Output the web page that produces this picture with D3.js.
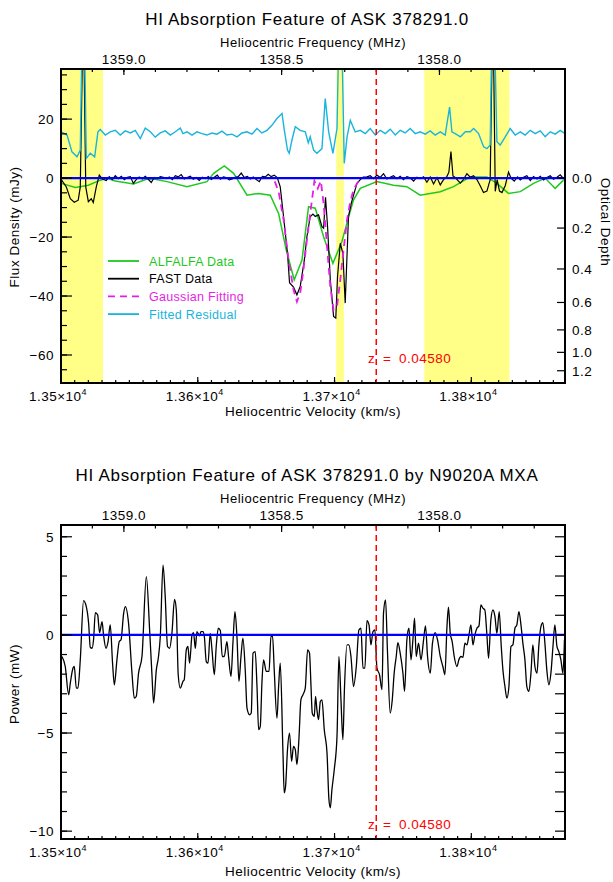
<!DOCTYPE html>
<html>
<head>
<meta charset="utf-8">
<script src="https://cdn.jsdelivr.net/npm/d3@7"></script>
<style>
  body { margin: 0; background: #fff; }
  text { font-family: "Liberation Sans", Arial, sans-serif; fill: #000; }
</style>
</head>
<body>
<svg id="chart" width="613" height="882"></svg>
<script>
// ---- data ----
const C_KMS = 299792.458, F0 = 1420.405752;
const velDomain = [13500, 13868.5];
const zRed = 0.04580;
const contFlux = 93.5; // continuum (mJy) behind the optical depth axis

// masked (RFI) velocity ranges, km/s
const maskBands = [[13500, 13530.7], [13701.2, 13706.9], [13765.6, 13827.9]];

// [velocity km/s, flux mJy]
const alfalfaData = [
  [13500.2,-1.8],[13510.5,-3.2],[13520.0,-2.4],[13528.7,-0.7],[13533.6,-0.1],[13539.7,-1.0],
  [13553.1,-2.0],[13562.9,-0.3],[13567.7,-0.3],[13577.5,-1.2],[13592.1,-2.9],[13606.7,-1.2],
  [13611.6,1.6],[13619.4,4.1],[13626.2,1.6],[13636.0,-5.8],[13644.4,-5.2],[13653.0,-5.8],
  [13659.1,-12],[13664.7,-24.4],[13670.5,-34.5],[13676.2,-27.8],[13681.0,-9.7],[13685.9,-10.2],
  [13692.0,-19.9],[13698.8,-28.9],[13705.4,-21.5],[13711.0,-12],[13713.9,-7.4],[13718.8,-3.5],
  [13731.0,-1.2],[13743.1,-2.4],[13752.9,-2.9],[13762.6,-5.8],[13777.3,-4.6],[13787.0,-2.9],
  [13799.2,0.4],[13811.4,0.4],[13818.7,-1.8],[13827.2,-5.2],[13835.8,-4.6],[13845.5,-1.8],
  [13854.0,0],[13861.3,-3.5],[13867.4,-0.7]
];

const fastData = [
  [13500.2,-0.5],[13503.9,-3],[13506.8,-7],[13509.7,-8.2],[13512.6,-7.5],[13514.1,-3],
  [13516.3,60],[13518.1,-3],[13520.0,-8],[13522.1,-7],[13523.6,-8.3],[13525.8,-3],
  [13528.0,1],[13530.2,-0.3],[13533.1,-0.8],[13535.3,0.5],[13537.5,-0.5],[13539.7,0.8],
  [13541.9,-0.2],[13544.1,0.6],[13546.3,-0.5],[13548.5,0.3],[13550.7,0.5],[13552.9,-1.8],
  [13555.0,-0.5],[13557.2,0.4],[13559.4,-0.3],[13561.6,0.6],[13563.8,-0.4],[13566.0,-1.5],
  [13568.2,0.2],[13570.4,-0.2],[13572.6,0.5],[13574.8,0.3],[13577.0,-0.2],[13579.2,0.4],
  [13581.4,-0.5],[13583.6,0.8],[13585.7,0.4],[13587.9,1.2],[13590.1,-0.3],[13592.3,0.2],
  [13594.5,0.6],[13596.7,-0.4],[13598.9,0.2],[13601.1,-0.8],[13603.3,0.3],[13605.5,-0.2],
  [13607.7,0.5],[13609.9,-0.5],[13612.1,0.3],[13614.3,1.0],[13616.5,-0.4],[13618.7,0.4],
  [13620.8,0.2],[13623.0,-0.6],[13625.2,-0.3],[13627.4,0.3],[13629.6,0.5],[13631.8,1.7],
  [13634.0,0.2],[13636.2,0.6],[13638.4,-0.3],[13640.6,0.4],[13642.8,-0.5],[13645.0,-1.2],
  [13647.2,0.6],[13649.4,0.4],[13651.5,1.3],[13653.7,0.5],[13655.9,1.0],[13658.1,0.2],
  [13660.3,-3],[13662.7,-13],[13665.6,-25.5],[13667.1,-35.5],[13670.0,-37],[13672.5,-39.6],
  [13674.9,-36.8],[13677.9,-27.8],[13679.8,-19.9],[13682.2,-13.1],[13684.2,-12.2],[13685.9,-13],
  [13688.3,-12.5],[13690.8,-16.5],[13692.0,-17],[13693.4,-6.5],[13694.9,-16.5],[13696.9,-34.5],
  [13699.3,-46.9],[13700.9,-47.5],[13702.2,-33.4],[13704.2,-22.1],[13706.1,-25.5],[13707.8,-42.4],
  [13710.2,-13],[13712.2,-8.6],[13713.9,-5.8],[13716.4,-1.8],[13718.8,-0.5],[13721.0,0.3],
  [13723.7,0.4],[13726.1,0.8],[13728.5,-0.2],[13731.0,1.0],[13733.4,0.2],[13735.8,1.5],
  [13738.3,-0.3],[13740.7,0.3],[13743.1,0.8],[13745.6,-0.2],[13748.0,0.6],[13750.4,-0.5],
  [13752.9,0.5],[13755.3,0.1],[13757.8,-1.0],[13760.2,0.3],[13762.6,-0.2],[13765.1,0.4],
  [13767.5,-1.4],[13770.0,0.4],[13772.4,-2.0],[13774.9,0.2],[13777.3,-2.3],[13779.7,-0.5],
  [13782.2,0.6],[13783.6,2],[13785.1,9],[13786.6,0.7],[13788.2,0.2],[13792.0,-1.7],
  [13794.3,-0.4],[13796.8,1.5],[13799.2,0.3],[13801.6,0.8],[13804.1,-0.5],[13806.5,-2.6],
  [13808.9,-4.9],[13811.4,-4.4],[13813.8,-0.5],[13815.8,60],[13817.5,-4.5],[13818.9,-0.5],
  [13820.6,-4.4],[13822.4,-4.9],[13824.8,-2.6],[13827.2,2.0],[13829.0,0.0],[13831.4,-1.0],
  [13833.8,0.4],[13835.8,-0.6],[13838.2,0.3],[13840.6,0.8],[13843.1,-0.8],[13845.5,0.5],
  [13848.0,-0.3],[13850.4,0.6],[13852.8,-0.6],[13855.3,0.2],[13857.7,0.8],[13860.1,-0.4],
  [13862.6,0.3],[13865.0,1.1],[13867.4,-0.2],[13868.5,0.3]
];

const gaussData = [
  [13500,0],[13655.4,0],[13659.1,-4.6],[13662.7,-14],[13666.4,-27.8],[13670.0,-37.9],
  [13672.5,-41.9],[13674.9,-39],[13677.3,-31],[13679.8,-21],[13682.2,-11.9],[13684.2,-5],
  [13685.3,-1],[13687.7,-3.5],[13690.0,-1],[13692.0,-8.6],[13694.5,-23],[13696.9,-36.8],
  [13699.3,-44.7],[13701.8,-43.5],[13704.2,-34.5],[13706.6,-24.4],[13709.1,-14.2],[13711.5,-8],
  [13713.9,-4],[13716.4,-1.8],[13718.8,-0.5],[13721.2,0],[13868.5,0]
];

const residualData = [
  [13500.2,15.7],[13504.4,14.6],[13508.0,8.9],[13511.7,7.2],[13514.1,9.5],[13516.3,75],
  [13518.5,6.7],[13521.4,8.4],[13524.6,7.2],[13527.0,15.7],[13528.7,16.5],[13532.4,14.6],
  [13536.0,15.7],[13539.7,16.2],[13543.3,14.6],[13547.0,16.0],[13550.7,15.3],[13554.3,16.2],
  [13558.0,13.4],[13561.6,17.0],[13565.3,15.7],[13568.9,13.9],[13572.6,15.3],[13576.2,16.0],
  [13579.9,14.6],[13583.6,15.7],[13587.2,17.0],[13589.2,15.1],[13592.1,15.7],[13595.8,14.6],
  [13599.4,15.7],[13603.1,15.1],[13606.7,14.6],[13610.4,15.3],[13614.0,14.9],[13617.7,15.9],
  [13621.3,14.6],[13625.0,14.9],[13628.7,14.0],[13632.3,15.3],[13636.0,15.7],[13639.6,14.9],
  [13643.3,16.8],[13646.9,15.3],[13650.6,16.2],[13654.2,17.9],[13657.9,20.2],[13661.6,21.9],
  [13663.2,16.5],[13665.6,9.5],[13666.9,8.4],[13668.9,13],[13671.3,17.4],[13674.9,16.2],
  [13678.6,15.7],[13680.8,12],[13682.2,14],[13684.7,9.5],[13687.1,8.4],[13690.8,10],
  [13693.2,27],[13695.7,15.7],[13698.8,8.4],[13701.8,16.8],[13704.2,75],[13707.1,5],
  [13709.1,13.8],[13711.5,19.6],[13715.1,15.7],[13718.8,16.2],[13722.5,15.1],[13726.1,16.8],
  [13729.8,14.6],[13733.4,16.2],[13737.1,15.1],[13740.7,16.6],[13744.4,14.6],[13748.0,16.2],
  [13751.7,15.3],[13755.3,16.8],[13759.0,15.1],[13762.6,15.7],[13766.3,14.9],[13769.9,16.0],
  [13773.6,14.6],[13777.3,15.7],[13780.9,14.6],[13784.1,24.1],[13785.8,15.7],[13788.2,15.1],
  [13792.0,14.0],[13795.6,15.7],[13799.2,15.7],[13801.7,16.8],[13805.3,15.1],[13809.0,10.6],
  [13811.4,10.0],[13813.8,11.2],[13815.8,75],[13818.7,12.3],[13821.1,11.2],[13824.8,14.0],
  [13828.4,16.8],[13832.1,14.6],[13835.8,15.7],[13839.4,14.6],[13843.1,16.2],[13846.7,15.1],
  [13850.4,16.0],[13854.0,14.0],[13857.7,15.7],[13861.3,14.9],[13865.0,16.2],[13868.5,15.1]
];

// N9020A MXA spectrum: [velocity km/s, power mW]
const mxaData = [
  [13500.7,-1.10],[13503.1,-1.61],[13505.6,-3.05],[13506.8,-2.46],[13508.8,-1.69],[13509.7,-1.61],
  [13511.2,-2.71],[13512.4,-2.71],[13514.1,-1.27],[13516.5,1.75],[13518.5,1.44],[13520.2,0.59],
  [13521.4,-0.63],[13522.7,-0.68],[13523.8,-0.25],[13525.1,1.14],[13526.8,1.02],[13528.2,0.12],
  [13530.0,0.68],[13531.1,0.00],[13532.9,-0.68],[13534.4,-0.34],[13536.0,0.51],[13537.7,-1.44],
  [13539.0,-2.54],[13540.9,-1.27],[13542.6,-0.34],[13543.9,-0.25],[13545.8,1.10],[13547.0,1.44],
  [13549.4,0.59],[13551.9,-1.95],[13553.6,-3.22],[13555.0,-3.14],[13556.7,-1.95],[13559.2,-1.10],
  [13562.4,2.97],[13564.8,0.25],[13566.5,-2.03],[13567.7,-3.47],[13569.7,-1.78],[13571.3,-1.10],
  [13572.6,-0.08],[13574.6,3.56],[13576.2,1.95],[13577.9,-0.59],[13579.4,-0.68],[13581.1,0.08],
  [13583.0,1.81],[13584.3,1.27],[13585.7,-2.03],[13587.2,-2.71],[13589.2,-2.37],[13590.1,-2.29],
  [13591.6,-0.76],[13592.8,-0.59],[13594.0,-1.44],[13595.8,0.00],[13596.9,0.12],[13598.2,-0.68],
  [13599.4,0.17],[13601.3,-0.05],[13602.3,0.17],[13603.8,0.17],[13604.8,-0.08],[13606.2,-1.36],
  [13607.5,-1.44],[13609.1,0.08],[13610.4,-0.76],[13612.1,-2.03],[13613.5,-0.59],[13615.0,0.34],
  [13616.5,0.22],[13617.9,-1.10],[13619.4,-1.10],[13621.3,-0.34],[13622.5,-1.10],[13624.3,-2.12],
  [13625.7,-0.42],[13627.2,1.19],[13628.7,-0.17],[13630.1,-2.37],[13631.6,-1.10],[13633.0,-0.17],
  [13634.7,-1.78],[13636.0,-3.73],[13637.9,-4.07],[13639.1,-3.98],[13640.4,-0.93],[13642.0,-0.85],
  [13643.3,-2.63],[13644.5,-4.83],[13645.7,-4.66],[13646.9,-2.46],[13648.1,-1.27],[13650.1,-1.86],
  [13652.1,-1.86],[13653.5,-0.08],[13654.7,-0.08],[13655.9,-1.78],[13657.9,-4.24],[13659.1,-2.63],
  [13660.3,-1.44],[13662.3,-6.02],[13663.2,-8.05],[13664.2,-7.71],[13665.6,-5.85],[13667.1,-5.00],
  [13668.6,-6.44],[13670.0,-5.68],[13671.3,-5.85],[13672.5,-6.61],[13674.0,-5.25],[13675.4,-3.31],
  [13676.9,-3.05],[13678.6,-2.71],[13680.3,-0.76],[13681.7,-0.93],[13682.8,-2.63],[13683.7,-3.98],
  [13685.2,-4.15],[13686.1,-3.14],[13687.1,-3.81],[13688.3,-4.32],[13689.6,-3.39],[13690.8,-3.31],
  [13692.5,-4.83],[13694.5,-6.02],[13695.9,-8.39],[13696.9,-8.81],[13698.1,-7.88],[13699.8,-6.86],
  [13701.8,-5.17],[13703.2,-1.10],[13704.7,-3.31],[13706.1,-5.34],[13707.3,-2.63],[13709.1,-0.51],
  [13710.5,-0.51],[13712.0,-1.10],[13713.9,-2.63],[13715.9,-1.61],[13717.8,0.25],[13719.3,0.34],
  [13720.8,-1.69],[13722.2,-1.69],[13723.7,0.73],[13725.2,0.51],[13726.6,-0.51],[13728.1,0.17],
  [13729.5,0.25],[13731.0,-1.69],[13732.9,-2.03],[13734.7,-2.80],[13735.8,1.10],[13737.3,1.78],
  [13738.7,-0.85],[13740.7,-3.98],[13742.2,-3.31],[13743.6,-1.95],[13745.1,-1.10],[13746.3,-0.39],
  [13748.0,-0.93],[13750.0,-1.95],[13751.2,-2.88],[13752.9,-0.25],[13754.4,0.34],[13755.9,-1.27],
  [13757.3,-0.25],[13758.5,0.85],[13759.7,-1.10],[13761.4,-0.42],[13763.2,-1.27],[13765.1,-0.25],
  [13766.5,0.46],[13768.0,-1.10],[13770.0,-1.95],[13771.6,-0.42],[13773.6,0.12],[13775.3,-0.25],
  [13777.3,-1.10],[13779.2,-1.61],[13780.7,-2.03],[13782.2,0.42],[13783.3,1.41],[13784.6,0.08],
  [13786.0,-0.34],[13787.5,-1.10],[13789.5,-1.61],[13790.9,-1.27],[13792.4,-1.10],[13793.9,-1.14],
  [13795.3,-0.42],[13796.8,-0.51],[13798.3,0.00],[13799.7,0.51],[13801.2,-0.51],[13802.6,0.00],
  [13804.1,0.34],[13805.6,0.46],[13807.0,1.53],[13808.5,1.36],[13809.9,1.27],[13811.4,0.00],
  [13812.6,-1.19],[13814.3,0.76],[13815.8,1.27],[13817.3,0.93],[13818.7,0.08],[13820.4,1.19],
  [13821.9,-0.59],[13823.1,-1.78],[13824.6,-2.63],[13826.0,-3.22],[13827.5,-2.63],[13829.0,-0.59],
  [13830.4,-0.51],[13831.9,0.34],[13833.3,0.51],[13834.8,1.19],[13836.3,0.51],[13837.7,-0.42],
  [13839.2,-1.27],[13840.6,-2.63],[13842.1,-2.88],[13843.6,-1.95],[13845.0,-0.51],[13846.5,-1.61],
  [13848.0,-1.95],[13849.4,-0.51],[13850.9,0.42],[13852.3,0.63],[13853.8,-0.42],[13855.3,-1.86],
  [13856.7,-2.54],[13858.2,-1.95],[13859.7,-0.59],[13861.1,0.51],[13862.6,-0.59],[13864.0,-0.85],
  [13865.5,-1.27],[13867.0,-1.95],[13868.1,-0.25]
];

// axis ticks
const velTicks = [13500, 13600, 13700, 13800];
const freqTicks = [1359.0, 1358.5, 1358.0];
const fluxTicks = [-60, -40, -20, 0, 20];
const tauTicks = [0.0, 0.2, 0.4, 0.6, 0.8, 1.0, 1.2];
const powerTicks = [-10, -5, 0, 5];

const legendItems = [
  { label: 'ALFALFA Data', color: '#1ec81e', dash: null },
  { label: 'FAST Data', color: '#000000', dash: null },
  { label: 'Gaussian Fitting', color: '#e61ee6', dash: '7,5' },
  { label: 'Fitted Residual', color: '#19b4dc', dash: null }
];

// ---- layout ----
const svg = d3.select('#chart');
const X0 = 61, X1 = 565;
const x = d3.scaleLinear().domain(velDomain).range([X0, X1]);
const freqToVel = f => C_KMS * (F0 / f - 1);
const zVel = zRed * C_KMS;
const txt = { size: 13.5, ls: 0.5 };

function hline(g, x1, x2, y) {
  g.append('line').attr('x1', x1).attr('x2', x2).attr('y1', y).attr('y2', y)
    .attr('stroke', '#000').attr('stroke-width', 1.2);
}
function vline(g, xx, y1, y2) {
  g.append('line').attr('x1', xx).attr('x2', xx).attr('y1', y1).attr('y2', y2)
    .attr('stroke', '#000').attr('stroke-width', 1.2);
}
function label(g, str, xx, yy, anchor, opts = {}) {
  return g.append('text').attr('x', xx).attr('y', yy)
    .attr('text-anchor', anchor || 'middle')
    .attr('font-size', opts.size || txt.size)
    .attr('letter-spacing', opts.ls != null ? opts.ls : txt.ls)
    .style('fill', opts.color || '#000')
    .text(str);
}

function drawPanel(p) {
  const g = svg.append('g');
  const y = d3.scaleLinear().domain(p.yDomain).range([p.bottom, p.top]);
  const clipId = 'clip' + p.top;
  svg.append('clipPath').attr('id', clipId).append('rect')
    .attr('x', X0).attr('y', p.top).attr('width', X1 - X0).attr('height', p.bottom - p.top);
  const plot = g.append('g').attr('clip-path', `url(#${clipId})`);

  // titles
  label(g, p.title, 307, p.top - 44, 'middle', { size: 17, ls: 0.7 });
  label(g, 'Heliocentric Frequency (MHz)', 313, p.top - 22, 'middle', { size: 13 });
  label(g, 'Heliocentric Velocity (km/s)', 313, p.bottom + p.xTitleOff);

  // top axis: frequency
  freqTicks.forEach(f => {
    const xx = x(freqToVel(f));
    vline(g, xx, p.top, p.top + p.topMajor);
    label(g, d3.format('.1f')(f), xx, p.top - 5);
  });
  d3.range(13591, 13576, -1).map(k => k / 10).forEach(f => {
    const xx = x(freqToVel(f));
    if (xx > X0 && xx < X1) vline(g, xx, p.top, p.top + p.topMajor / 2);
  });

  // bottom axis: velocity
  d3.range(13510, 13869, 10).forEach(v => vline(g, x(v), p.bottom, p.bottom - 3));
  velTicks.forEach(v => {
    const xx = x(v);
    vline(g, xx, p.bottom, p.bottom - 6);
    const t = label(g, (v / 1e4).toFixed(2) + '\u00d710', xx - 3, p.bottom + 18);
    t.append('tspan').attr('dy', -6).attr('font-size', 9).text('4');
  });

  // left axis
  p.yMinor.forEach(v => hline(g, X0, X0 + 6, y(v)));
  p.yMajor.forEach(v => {
    hline(g, X0, X0 + 11, y(v));
    label(g, d3.format('d')(v).replace('-', '\u2212'), X0 - 7, y(v) + 5, 'end');
  });
  g.append('text')
    .attr('transform', `translate(19,${p.yTitleY}) rotate(-90)`)
    .attr('text-anchor', 'middle').attr('font-size', txt.size).attr('letter-spacing', txt.ls)
    .text(p.yTitle);

  return { g, y, plot };
}

const lineGen = y => d3.line().x(d => x(d[0])).y(d => y(d[1]));

// ---- upper panel ----
const upper = drawPanel({
  top: 69, bottom: 383, yDomain: [-69.5, 37],
  title: 'HI Absorption Feature of ASK 378291.0',
  yMajor: fluxTicks, yMinor: d3.range(-65, 36, 5),
  yTitle: 'Flux Density (mJy)', yTitleY: 227, xTitleOff: 33, topMajor: 6
});

maskBands.forEach(b => {
  upper.plot.append('rect').attr('x', x(b[0])).attr('width', x(b[1]) - x(b[0]))
    .attr('y', 69).attr('height', 314).attr('fill', '#ffff88');
});

upper.plot.append('path').datum(alfalfaData).attr('d', lineGen(upper.y))
  .attr('fill', 'none').attr('stroke', legendItems[0].color).attr('stroke-width', 1.5);
upper.plot.append('path').datum(fastData).attr('d', lineGen(upper.y))
  .attr('fill', 'none').attr('stroke', legendItems[1].color).attr('stroke-width', 1.2);
upper.plot.append('path').datum(gaussData).attr('d', lineGen(upper.y))
  .attr('fill', 'none').attr('stroke', legendItems[2].color).attr('stroke-width', 1.8)
  .attr('stroke-dasharray', legendItems[2].dash);
upper.plot.append('path').datum(residualData).attr('d', lineGen(upper.y))
  .attr('fill', 'none').attr('stroke', legendItems[3].color).attr('stroke-width', 1.4);
upper.plot.append('line').attr('x1', X0).attr('x2', X1)
  .attr('y1', upper.y(0)).attr('y2', upper.y(0)).attr('stroke', '#0000ff').attr('stroke-width', 2.2);

// right axis: optical depth
const tauToFlux = t => -contFlux * (1 - Math.exp(-t));
tauTicks.forEach(t => {
  const yy = upper.y(tauToFlux(t));
  hline(upper.g, X1 - 8, X1, yy);
  label(upper.g, d3.format('.1f')(t), 572, yy + 5, 'start');
});
upper.g.append('text')
  .attr('transform', `translate(601,222) rotate(90)`)
  .attr('text-anchor', 'middle').attr('font-size', txt.size).attr('letter-spacing', txt.ls)
  .text('Optical Depth');

// legend
legendItems.forEach((d, i) => {
  const yy = 261 + i * 17.7;
  upper.g.append('line').attr('x1', 108).attr('x2', 139).attr('y1', yy).attr('y2', yy)
    .attr('stroke', d.color).attr('stroke-width', 1.8).attr('stroke-dasharray', d.dash);
  label(upper.g, d.label, 149, yy + 4.5, 'start', { size: 12.5, ls: 0.3, color: d.color });
});

// ---- lower panel ----
const lower = drawPanel({
  top: 525, bottom: 839, yDomain: [-10.4, 5.6],
  title: 'HI Absorption Feature of ASK 378291.0 by N9020A MXA',
  yMajor: powerTicks, yMinor: d3.range(-10, 6, 1),
  yTitle: 'Power (mW)', yTitleY: 684, xTitleOff: 37, topMajor: 7
});
d3.range(-10, 6, 1).forEach(v => hline(lower.g, X1 - 10, X1, lower.y(v)));
lower.plot.append('path').datum(mxaData).attr('d', lineGen(lower.y).curve(d3.curveMonotoneX))
  .attr('fill', 'none').attr('stroke', '#000').attr('stroke-width', 1.3);
lower.plot.append('line').attr('x1', X0).attr('x2', X1)
  .attr('y1', lower.y(0)).attr('y2', lower.y(0)).attr('stroke', '#0000ff').attr('stroke-width', 2.2);

// ---- redshift markers and frames ----
[upper, lower].forEach((pn, i) => {
  const [b, t] = pn.y.range();
  pn.g.append('line').attr('x1', x(zVel)).attr('x2', x(zVel)).attr('y1', t).attr('y2', b)
    .attr('stroke', '#ff0000').attr('stroke-width', 1.5).attr('stroke-dasharray', '6,4');
  const zt = pn.g.append('text').attr('y', i === 0 ? 362.5 : 829)
    .attr('font-size', txt.size).attr('letter-spacing', txt.ls).style('fill', '#ff0000');
  zt.append('tspan').attr('x', 368).text('z');
  zt.append('tspan').attr('x', 383).text('=');
  zt.append('tspan').attr('x', 399).text(zRed.toFixed(5));
  pn.g.append('rect').attr('x', X0).attr('y', t).attr('width', X1 - X0).attr('height', b - t)
    .attr('fill', 'none').attr('stroke', '#000').attr('stroke-width', 2);
});
</script>
</body>
</html>
